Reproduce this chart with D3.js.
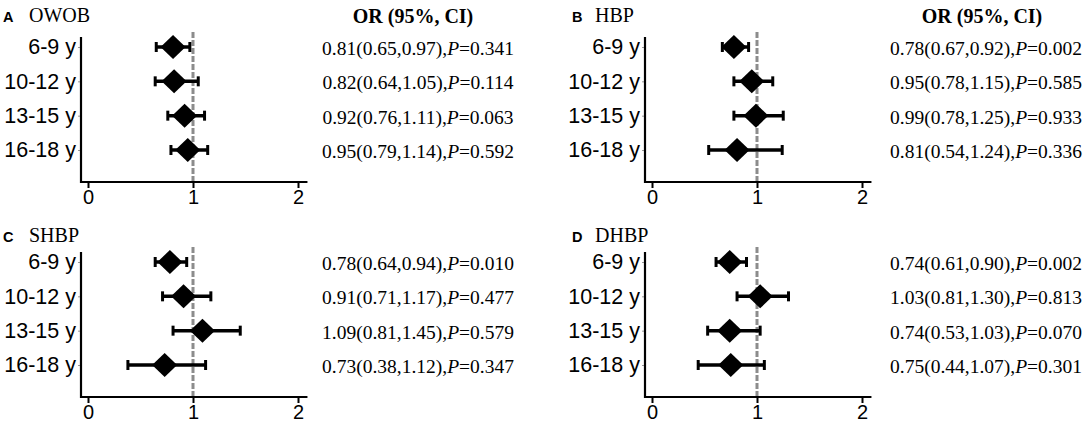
<!DOCTYPE html>
<html>
<head>
<meta charset="utf-8">
<script src="https://cdn.jsdelivr.net/npm/d3@7"></script>
<style>
  html, body { margin: 0; padding: 0; background: #fff; }
  svg { display: block; }
</style>
</head>
<body>
<svg id="chart" width="1084" height="430"></svg>
<script>
// ---------------- data ----------------
const categories = ["6-9 y", "10-12 y", "13-15 y", "16-18 y"];
const xTicks = [0, 1, 2];
const panelLetters = ["A", "B", "C", "D"];
const panelTitles = ["OWOB", "HBP", "SHBP", "DHBP"];
const headerLabel = "OR (95%, CI)";

const orOWOB = [0.81, 0.82, 0.92, 0.95];
const lowOWOB = [0.65, 0.64, 0.76, 0.79];
const highOWOB = [0.97, 1.05, 1.11, 1.14];
const pOWOB = ["0.341", "0.114", "0.063", "0.592"];

const orHBP = [0.78, 0.95, 0.99, 0.81];
const lowHBP = [0.67, 0.78, 0.78, 0.54];
const highHBP = [0.92, 1.15, 1.25, 1.24];
const pHBP = ["0.002", "0.585", "0.933", "0.336"];

const orSHBP = [0.78, 0.91, 1.09, 0.73];
const lowSHBP = [0.64, 0.71, 0.81, 0.38];
const highSHBP = [0.94, 1.17, 1.45, 1.12];
const pSHBP = ["0.010", "0.477", "0.579", "0.347"];

const orDHBP = [0.74, 1.03, 0.74, 0.75];
const lowDHBP = [0.61, 0.81, 0.53, 0.44];
const highDHBP = [0.90, 1.30, 1.03, 1.07];
const pDHBP = ["0.002", "0.813", "0.070", "0.301"];

const seriesOR = [orOWOB, orHBP, orSHBP, orDHBP];
const seriesLow = [lowOWOB, lowHBP, lowSHBP, lowDHBP];
const seriesHigh = [highOWOB, highHBP, highSHBP, highDHBP];
const seriesP = [pOWOB, pHBP, pSHBP, pDHBP];

// ---------------- layout ----------------
const svg = d3.select("#chart");
const SANS = "'Liberation Sans', Arial, sans-serif";
const SERIF = "'Liberation Serif', 'Times New Roman', serif";

const colOffsets = [0, 564];
const rowOffsets = [0, 215];
const textCenters = [418, 986];
const headerCenters = [413, 982];
const labelX = [[3, 29], [572, 595]];
const labelY = [22, 242];

const fmt = v => v.toFixed(2);

panelTitles.forEach((title, i) => {
  const col = i % 2, row = Math.floor(i / 2);
  const ox = colOffsets[col], oy = rowOffsets[row];

  const x = d3.scaleLinear().domain([0, 2]).range([88 + ox, 298 + ox]);
  const y = d3.scalePoint().domain(categories).range([47 + oy, 150 + oy]);
  const axisY = 182 + oy;
  const axisTop = 37 + oy;
  const yAxisX = x(0) - 7;

  const g = svg.append("g");

  // panel label
  g.append("text").attr("x", labelX[col][0]).attr("y", labelY[row])
    .attr("font-family", SANS).attr("font-weight", "bold").attr("font-size", 14.5)
    .text(panelLetters[i]);
  g.append("text").attr("x", labelX[col][1]).attr("y", labelY[row])
    .attr("font-family", SERIF).attr("font-size", 20)
    .text(title);

  // header (top row only)
  if (row === 0) {
    g.append("text").attr("x", headerCenters[col]).attr("y", 23)
      .attr("text-anchor", "middle")
      .attr("font-family", SERIF).attr("font-weight", "bold").attr("font-size", 20)
      .text(headerLabel);
  }

  // reference dashed line at OR = 1
  g.append("line")
    .attr("x1", x(1)).attr("x2", x(1))
    .attr("y1", 32 + oy).attr("y2", axisY)
    .attr("stroke", "#8c8c8c").attr("stroke-width", 3)
    .attr("stroke-dasharray", "6,2");

  // x axis
  const xAxis = g.append("g").attr("transform", `translate(0,${axisY})`)
    .call(d3.axisBottom(x).tickValues(xTicks).tickFormat(d3.format("d"))
      .tickSize(6).tickPadding(2));
  xAxis.select(".domain").remove();
  xAxis.selectAll(".tick line").attr("stroke", "#000").attr("stroke-width", 2);
  xAxis.selectAll(".tick text").attr("font-family", SANS).attr("font-size", 20).attr("fill", "#000");
  g.append("line")
    .attr("x1", yAxisX - 1).attr("x2", x(2.09))
    .attr("y1", axisY).attr("y2", axisY)
    .attr("stroke", "#000").attr("stroke-width", 2.2);

  // y axis
  const yAxis = g.append("g").attr("transform", `translate(${yAxisX},0)`)
    .call(d3.axisLeft(y).tickSize(3).tickPadding(2));
  yAxis.select(".domain").remove();
  yAxis.selectAll(".tick line").attr("stroke", "#999").attr("stroke-width", 1);
  yAxis.selectAll(".tick text").attr("font-family", SANS).attr("font-size", 21.5).attr("fill", "#000");
  g.append("line")
    .attr("x1", yAxisX).attr("x2", yAxisX)
    .attr("y1", axisTop).attr("y2", axisY + 1)
    .attr("stroke", "#000").attr("stroke-width", 2.2);

  const rows = categories.map((c, k) => ({
    cat: c, or: seriesOR[i][k], lo: seriesLow[i][k], hi: seriesHigh[i][k], p: seriesP[i][k]
  }));

  // error bars
  const eb = g.append("g");
  eb.selectAll("line.bar").data(rows).join("line")
    .attr("x1", d => x(d.lo)).attr("x2", d => x(d.hi))
    .attr("y1", d => y(d.cat)).attr("y2", d => y(d.cat))
    .attr("stroke", "#000").attr("stroke-width", 3.5);
  eb.selectAll("line.capl").data(rows).join("line")
    .attr("x1", d => x(d.lo)).attr("x2", d => x(d.lo))
    .attr("y1", d => y(d.cat) - 5).attr("y2", d => y(d.cat) + 5)
    .attr("stroke", "#000").attr("stroke-width", 3);
  eb.append("g").selectAll("line").data(rows).join("line")
    .attr("x1", d => x(d.hi)).attr("x2", d => x(d.hi))
    .attr("y1", d => y(d.cat) - 5).attr("y2", d => y(d.cat) + 5)
    .attr("stroke", "#000").attr("stroke-width", 3);

  // diamonds
  g.append("g").selectAll("path").data(rows).join("path")
    .attr("transform", d => `translate(${x(d.or)},${y(d.cat)})`)
    .attr("d", "M0,-12L12.5,0L0,12L-12.5,0Z")
    .attr("fill", "#000");

  // OR text column
  const tx = g.append("g").selectAll("text").data(rows).join("text")
    .attr("x", textCenters[col]).attr("y", d => y(d.cat) + 8)
    .attr("text-anchor", "middle")
    .attr("font-family", SERIF).attr("font-size", 19.5).attr("fill", "#000");
  tx.append("tspan").text(d => `${fmt(d.or)}(${fmt(d.lo)},${fmt(d.hi)}),`);
  tx.append("tspan").attr("font-style", "italic").text("P");
  tx.append("tspan").text(d => `=${d.p}`);
});
</script>
</body>
</html>
